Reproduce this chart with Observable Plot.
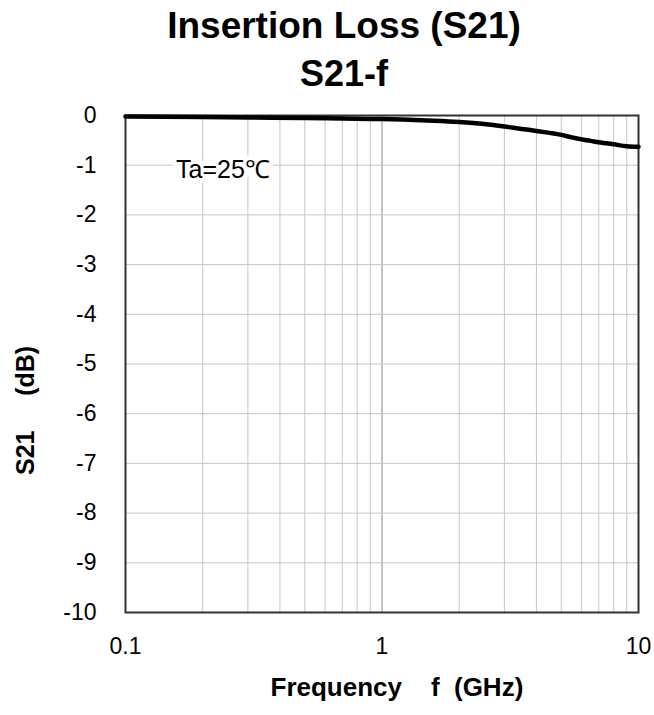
<!DOCTYPE html>
<html>
<head>
<meta charset="utf-8">
<script src="https://cdn.jsdelivr.net/npm/d3@7"></script>
<script src="https://cdn.jsdelivr.net/npm/@observablehq/plot@0.6"></script>
<style>
  html, body { margin: 0; padding: 0; background: white; overflow: hidden; }
  #wrap { position: relative; width: 654px; height: 715px; font-family: "Liberation Sans", Arial, sans-serif; }
  .t { position: absolute; left: 34px; width: 620px; text-align: center; font-weight: bold; color: black; white-space: nowrap; }
  #t1 { top: 7px; font-size: 37px; line-height: 37px; }
  #t2 { top: 56px; font-size: 36px; line-height: 36px; }
  #chart { position: absolute; left: 0; top: 100px; }
</style>
</head>
<body>
<div id="wrap">
  <div id="t1" class="t">Insertion Loss (S21)</div>
  <div id="t2" class="t">S21-f</div>
  <div id="chart"></div>
</div>
<script>
// Data
const freqGHz = [0.1, 0.2, 0.3, 0.5, 0.7, 1, 1.5, 2, 2.5, 3, 3.5, 4, 4.5, 5, 5.5, 6, 6.5, 7, 7.5, 8, 9, 10];
const s21dB   = [-0.02, -0.03, -0.04, -0.05, -0.06, -0.07, -0.10, -0.13, -0.17, -0.22, -0.27, -0.31, -0.35, -0.39, -0.44, -0.48, -0.51, -0.54, -0.56, -0.58, -0.62, -0.63];

const xTicks = [0.1, 1, 10];
const xMinorGrid = [0.2, 0.3, 0.4, 0.5, 0.6, 0.7, 0.8, 0.9, 2, 3, 4, 5, 6, 7, 8, 9];
const xMajorGrid = [1];
const yTicks = [0, -1, -2, -3, -4, -5, -6, -7, -8, -9, -10];
const yGrid = [-1, -2, -3, -4, -5, -6, -7, -8, -9];

const annotX = [0.24];
const annotY = [-1.1];
const annotText = ["Ta=25\u2103"];

const xLabel = "Frequency\u00a0\u00a0\u00a0\u00a0f\u00a0\u00a0(GHz)";
const yLabel = "S21\u00a0\u00a0\u00a0\u00a0\u00a0(dB)";

const curve = freqGHz.map((f, i) => ({f, s: s21dB[i]}));
const annot = annotX.map((x, i) => ({x, y: annotY[i], text: annotText[i]}));

const chart = Plot.plot({
  width: 654,
  height: 615,
  marginTop: 15,
  marginBottom: 103,
  marginLeft: 125,
  marginRight: 16,
  x: {type: "log", domain: [0.1, 10]},
  y: {domain: [-10, 0]},
  style: {fontFamily: "'Liberation Sans', Arial, sans-serif", background: "white", color: "black", overflow: "visible"},
  marks: [
    Plot.ruleX(xMinorGrid, {stroke: "#c6c6c6", strokeWidth: 1}),
    Plot.ruleX(xMajorGrid, {stroke: "#8a8a8a", strokeWidth: 1}),
    Plot.ruleY(yGrid, {stroke: "#c6c6c6", strokeWidth: 1}),
    Plot.text(annot, {x: "x", y: "y", text: "text", fontSize: 25, fill: "black", stroke: "white", strokeWidth: 10, paintOrder: "stroke", textAnchor: "middle"}),
    Plot.frame({stroke: "#333", strokeWidth: 2}),
    Plot.line(curve, {x: "f", y: "s", stroke: "black", strokeWidth: 4.5, curve: "monotone-x"}),
    Plot.axisX({ticks: xTicks, tickSize: 0, tickPadding: 25, fontSize: 23, tickFormat: d => String(d), label: null}),
    Plot.axisY({ticks: yTicks, tickSize: 0, tickPadding: 29, fontSize: 23, tickFormat: d => String(d), label: null}),
    Plot.text([xLabel], {text: d => d, frameAnchor: "bottom-left", textAnchor: "start", dx: 145, dy: 83, fontSize: 26, fontWeight: "bold"}),
    Plot.text([yLabel], {text: d => d, frameAnchor: "left", textAnchor: "start", rotate: -90, dx: -100, dy: 111, fontSize: 25, fontWeight: "bold"})
  ]
});
document.getElementById("chart").appendChild(chart);
</script>
</body>
</html>
